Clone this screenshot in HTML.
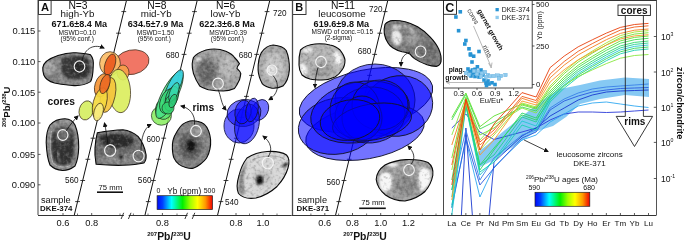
<!DOCTYPE html>
<html><head><meta charset="utf-8"><title>figure</title>
<style>html,body{margin:0;padding:0;background:#fff;width:685px;height:241px;overflow:hidden}svg{display:block;will-change:transform}text{font-family:"Liberation Sans",sans-serif}</style>
</head><body>
<svg width="685" height="241" viewBox="0 0 685 241" font-family="Liberation Sans, sans-serif"><defs>
<linearGradient id="jet" x1="0" x2="1" y1="0" y2="0">
<stop offset="0" stop-color="#0008f8"/><stop offset="0.1" stop-color="#0040ff"/>
<stop offset="0.26" stop-color="#00ffff"/><stop offset="0.46" stop-color="#00f000"/><stop offset="0.6" stop-color="#a0ff00"/><stop offset="0.73" stop-color="#ffff00"/>
<stop offset="0.87" stop-color="#ff9a00"/><stop offset="1" stop-color="#f00000"/>
</linearGradient>
<filter id="tex" x="0" y="0" width="1" height="1">
<feTurbulence type="fractalNoise" baseFrequency="0.12" numOctaves="3" seed="4" result="n"/>
<feColorMatrix in="n" type="matrix" values="0 0 0 0 0  0 0 0 0 0  0 0 0 0 0  0 0 0 -1.6 1.2" result="a"/>
<feComposite in="SourceGraphic" in2="a" operator="in"/>
</filter>
<filter id="bl"><feGaussianBlur stdDeviation="2"/></filter>
<filter id="bl1"><feGaussianBlur stdDeviation="1"/></filter>
<marker id="ah" markerWidth="5" markerHeight="5" refX="4" refY="2.5" orient="auto" markerUnits="userSpaceOnUse"><path d="M0,0 L5,2.5 L0,5 z" fill="#111"/></marker>
</defs>
<line x1="38" y1="31" x2="40.5" y2="31" stroke="#333" stroke-width="0.8" />
<text x="35.3" y="34.4" font-size="9.4" text-anchor="end" font-weight="normal" fill="#111" >0.115</text>
<line x1="38" y1="61.6" x2="40.5" y2="61.6" stroke="#333" stroke-width="0.8" />
<text x="35.3" y="65.0" font-size="9.4" text-anchor="end" font-weight="normal" fill="#111" >0.110</text>
<line x1="38" y1="92.2" x2="40.5" y2="92.2" stroke="#333" stroke-width="0.8" />
<text x="35.3" y="95.60000000000001" font-size="9.4" text-anchor="end" font-weight="normal" fill="#111" >0.105</text>
<line x1="38" y1="123" x2="40.5" y2="123" stroke="#333" stroke-width="0.8" />
<text x="35.3" y="126.4" font-size="9.4" text-anchor="end" font-weight="normal" fill="#111" >0.100</text>
<line x1="38" y1="154.4" x2="40.5" y2="154.4" stroke="#333" stroke-width="0.8" />
<text x="35.3" y="157.8" font-size="9.4" text-anchor="end" font-weight="normal" fill="#111" >0.095</text>
<line x1="38" y1="184.8" x2="40.5" y2="184.8" stroke="#333" stroke-width="0.8" />
<text x="35.3" y="188.20000000000002" font-size="9.4" text-anchor="end" font-weight="normal" fill="#111" >0.090</text>
<text transform="translate(10,127) rotate(-90)" font-size="9.6" font-weight="bold" fill="#111"><tspan font-size="5.6" dy="-3.6">206</tspan><tspan dy="3.6">Pb/</tspan><tspan font-size="5.6" dy="-3.6">238</tspan><tspan dy="3.6">U</tspan></text>
<filter id="tx1" x="-5%" y="-5%" width="110%" height="110%" color-interpolation-filters="sRGB"><feTurbulence type="fractalNoise" baseFrequency="0.3" numOctaves="2" seed="7" result="t"/><feColorMatrix in="t" type="matrix" values="0 0 0 0 0  0 0 0 0 0  0 0 0 0 0  0.6 0 0 0 -0.3" result="dk"/><feColorMatrix in="t" type="matrix" values="0 0 0 0 1  0 0 0 0 1  0 0 0 0 1  -0.6 0 0 0 0.3" result="lt"/><feMerge result="m"><feMergeNode in="dk"/><feMergeNode in="lt"/></feMerge><feComposite in="m" in2="SourceAlpha" operator="in"/></filter>
<clipPath id="zc1"><path d="M42.8,67.5 C43.5,61 52,57.5 58,55.5 C64,53.5 70,52.3 76,52.8 C82,53.2 88,53.6 90.5,54.8 C92.5,57 93.8,62 93.2,67 C93,73 92.6,78.5 90.5,81.6 C86,84.5 80,85.8 74,85.6 C66,85.2 60,84 54.5,83 C49,81.5 45.2,78.5 43.8,75 C43,72.5 42.6,70 42.8,67.5 Z"/></clipPath>
<path d="M42.8,67.5 C43.5,61 52,57.5 58,55.5 C64,53.5 70,52.3 76,52.8 C82,53.2 88,53.6 90.5,54.8 C92.5,57 93.8,62 93.2,67 C93,73 92.6,78.5 90.5,81.6 C86,84.5 80,85.8 74,85.6 C66,85.2 60,84 54.5,83 C49,81.5 45.2,78.5 43.8,75 C43,72.5 42.6,70 42.8,67.5 Z" fill="#8a8a8a"/>
<g clip-path="url(#zc1)"><path d="M62,58 C70,55.5 80,55.5 87,57.5 C90.5,61 90.8,70 89.5,75 C86,79.5 78,80 70,79 C64,77.5 61.5,73 61,68 C60.8,63 60.8,60 62,58 Z" fill="#3a3a3a" filter="url(#bl1)"/><ellipse cx="80" cy="68" rx="7" ry="7" fill="#2a2a2a" filter="url(#bl)"/><ellipse cx="52" cy="76" rx="6" ry="4" fill="#777" filter="url(#bl)"/><ellipse cx="49" cy="68" rx="5" ry="7" fill="#a8a8a8" filter="url(#bl1)"/></g>
<path d="M42.8,67.5 C43.5,61 52,57.5 58,55.5 C64,53.5 70,52.3 76,52.8 C82,53.2 88,53.6 90.5,54.8 C92.5,57 93.8,62 93.2,67 C93,73 92.6,78.5 90.5,81.6 C86,84.5 80,85.8 74,85.6 C66,85.2 60,84 54.5,83 C49,81.5 45.2,78.5 43.8,75 C43,72.5 42.6,70 42.8,67.5 Z" fill="#000" filter="url(#tx1)"/>
<path d="M42.8,67.5 C43.5,61 52,57.5 58,55.5 C64,53.5 70,52.3 76,52.8 C82,53.2 88,53.6 90.5,54.8 C92.5,57 93.8,62 93.2,67 C93,73 92.6,78.5 90.5,81.6 C86,84.5 80,85.8 74,85.6 C66,85.2 60,84 54.5,83 C49,81.5 45.2,78.5 43.8,75 C43,72.5 42.6,70 42.8,67.5 Z" fill="none" stroke="#0a0a0a" stroke-width="1.1"/>
<filter id="tx2" x="-5%" y="-5%" width="110%" height="110%" color-interpolation-filters="sRGB"><feTurbulence type="fractalNoise" baseFrequency="0.3" numOctaves="2" seed="14" result="t"/><feColorMatrix in="t" type="matrix" values="0 0 0 0 0  0 0 0 0 0  0 0 0 0 0  0.6 0 0 0 -0.3" result="dk"/><feColorMatrix in="t" type="matrix" values="0 0 0 0 1  0 0 0 0 1  0 0 0 0 1  -0.6 0 0 0 0.3" result="lt"/><feMerge result="m"><feMergeNode in="dk"/><feMergeNode in="lt"/></feMerge><feComposite in="m" in2="SourceAlpha" operator="in"/></filter>
<clipPath id="zc2"><path d="M65,118.7 C70,118.8 73,121 75,125 C77.5,131 78.8,139 78.7,147.5 C78.5,155 77.5,161 75,166 C71,169 66.5,170.6 62.5,170.5 C57,170 53,168 50,165 C47.5,159 46.5,151 46.2,142.5 C46.2,135 47.5,129 50,125 C54,120.5 59,118.6 65,118.7 Z"/></clipPath>
<path d="M65,118.7 C70,118.8 73,121 75,125 C77.5,131 78.8,139 78.7,147.5 C78.5,155 77.5,161 75,166 C71,169 66.5,170.6 62.5,170.5 C57,170 53,168 50,165 C47.5,159 46.5,151 46.2,142.5 C46.2,135 47.5,129 50,125 C54,120.5 59,118.6 65,118.7 Z" fill="#8c8c8c"/>
<g clip-path="url(#zc2)"><path d="M53,132 C56,126 70,125 73,132 C75,143 74.5,155 71,163 C65,166.5 57,166 53.5,160 C51,152 50.5,141 53,132 Z" fill="#363636" filter="url(#bl1)"/><ellipse cx="63" cy="134" rx="8" ry="7" fill="#707070" filter="url(#bl)"/><path d="M51.5,131 C49.5,142 50,155 53,163 C58,168 66,168 71,165" stroke="#b0b0b0" stroke-width="0.9" fill="none"/><path d="M58,150 C57,156 58,160 61,162" stroke="#999" stroke-width="1.2" fill="none" filter="url(#bl1)"/></g>
<path d="M65,118.7 C70,118.8 73,121 75,125 C77.5,131 78.8,139 78.7,147.5 C78.5,155 77.5,161 75,166 C71,169 66.5,170.6 62.5,170.5 C57,170 53,168 50,165 C47.5,159 46.5,151 46.2,142.5 C46.2,135 47.5,129 50,125 C54,120.5 59,118.6 65,118.7 Z" fill="#000" filter="url(#tx2)"/>
<path d="M65,118.7 C70,118.8 73,121 75,125 C77.5,131 78.8,139 78.7,147.5 C78.5,155 77.5,161 75,166 C71,169 66.5,170.6 62.5,170.5 C57,170 53,168 50,165 C47.5,159 46.5,151 46.2,142.5 C46.2,135 47.5,129 50,125 C54,120.5 59,118.6 65,118.7 Z" fill="none" stroke="#0a0a0a" stroke-width="1.1"/>
<filter id="tx3" x="-5%" y="-5%" width="110%" height="110%" color-interpolation-filters="sRGB"><feTurbulence type="fractalNoise" baseFrequency="0.3" numOctaves="2" seed="21" result="t"/><feColorMatrix in="t" type="matrix" values="0 0 0 0 0  0 0 0 0 0  0 0 0 0 0  0.6 0 0 0 -0.3" result="dk"/><feColorMatrix in="t" type="matrix" values="0 0 0 0 1  0 0 0 0 1  0 0 0 0 1  -0.6 0 0 0 0.3" result="lt"/><feMerge result="m"><feMergeNode in="dk"/><feMergeNode in="lt"/></feMerge><feComposite in="m" in2="SourceAlpha" operator="in"/></filter>
<clipPath id="zc3"><path d="M97.3,132.8 C105,131.5 114,130.2 122.9,129.8 C128,130.5 134,133 138,136.3 C142,141 145,148 146.1,154.9 C146.3,158.5 145.5,161.5 143.8,163 C137,164.5 130,165 122.9,165.3 C114,165.5 104,165 96.1,164.2 C95,158 94.6,153 95,147.9 C95.4,142 96.2,137 97.3,132.8 Z"/></clipPath>
<path d="M97.3,132.8 C105,131.5 114,130.2 122.9,129.8 C128,130.5 134,133 138,136.3 C142,141 145,148 146.1,154.9 C146.3,158.5 145.5,161.5 143.8,163 C137,164.5 130,165 122.9,165.3 C114,165.5 104,165 96.1,164.2 C95,158 94.6,153 95,147.9 C95.4,142 96.2,137 97.3,132.8 Z" fill="#6c6c6c"/>
<g clip-path="url(#zc3)"><path d="M99,137 C108,133 122,132 133,138 C136,143 130,148 118,148 C108,148 101,145 99,137 Z" fill="#2e2e2e" filter="url(#bl1)"/><ellipse cx="118" cy="160" rx="22" ry="4.5" fill="#8c8c8c" filter="url(#bl)"/><ellipse cx="140" cy="148" rx="4" ry="8" fill="#7a7a7a" filter="url(#bl1)"/><ellipse cx="121" cy="157" rx="2" ry="2" fill="#1a1a1a" filter="url(#bl1)"/><path d="M100,133 C110,131.5 120,131 126,132" stroke="#999" stroke-width="1.2" fill="none" filter="url(#bl1)"/></g>
<path d="M97.3,132.8 C105,131.5 114,130.2 122.9,129.8 C128,130.5 134,133 138,136.3 C142,141 145,148 146.1,154.9 C146.3,158.5 145.5,161.5 143.8,163 C137,164.5 130,165 122.9,165.3 C114,165.5 104,165 96.1,164.2 C95,158 94.6,153 95,147.9 C95.4,142 96.2,137 97.3,132.8 Z" fill="#000" filter="url(#tx3)"/>
<path d="M97.3,132.8 C105,131.5 114,130.2 122.9,129.8 C128,130.5 134,133 138,136.3 C142,141 145,148 146.1,154.9 C146.3,158.5 145.5,161.5 143.8,163 C137,164.5 130,165 122.9,165.3 C114,165.5 104,165 96.1,164.2 C95,158 94.6,153 95,147.9 C95.4,142 96.2,137 97.3,132.8 Z" fill="none" stroke="#0a0a0a" stroke-width="1.1"/>
<filter id="tx4" x="-5%" y="-5%" width="110%" height="110%" color-interpolation-filters="sRGB"><feTurbulence type="fractalNoise" baseFrequency="0.3" numOctaves="2" seed="28" result="t"/><feColorMatrix in="t" type="matrix" values="0 0 0 0 0  0 0 0 0 0  0 0 0 0 0  0.6 0 0 0 -0.3" result="dk"/><feColorMatrix in="t" type="matrix" values="0 0 0 0 1  0 0 0 0 1  0 0 0 0 1  -0.6 0 0 0 0.3" result="lt"/><feMerge result="m"><feMergeNode in="dk"/><feMergeNode in="lt"/></feMerge><feComposite in="m" in2="SourceAlpha" operator="in"/></filter>
<clipPath id="zc4"><path d="M193.5,57.5 C196,54 200,52 206,50 C212,48.5 219,48.5 225.8,51.2 C230,53 233,55 234.5,57.5 C237,60 238.5,62 239.5,63.7 C238,65.5 237,67 237,68.6 C238.5,70 240.5,71.5 240.8,73.6 C240.5,76 240,78 239.5,79.8 C238,83 236.5,86 234.5,88.5 C230,90.5 226,91 223.3,91 C218,91 213,90.5 208.4,89.8 C205,88.5 202,87.5 199.7,86 C197,82 195,78 193.5,73.6 C192.5,70 192,67 192.2,63.7 C192.5,61 193,59 193.5,57.5 Z"/></clipPath>
<path d="M193.5,57.5 C196,54 200,52 206,50 C212,48.5 219,48.5 225.8,51.2 C230,53 233,55 234.5,57.5 C237,60 238.5,62 239.5,63.7 C238,65.5 237,67 237,68.6 C238.5,70 240.5,71.5 240.8,73.6 C240.5,76 240,78 239.5,79.8 C238,83 236.5,86 234.5,88.5 C230,90.5 226,91 223.3,91 C218,91 213,90.5 208.4,89.8 C205,88.5 202,87.5 199.7,86 C197,82 195,78 193.5,73.6 C192.5,70 192,67 192.2,63.7 C192.5,61 193,59 193.5,57.5 Z" fill="#a2a2a2"/>
<g clip-path="url(#zc4)"><ellipse cx="207" cy="72" rx="10" ry="14" fill="#6a6a6a" filter="url(#bl)"/><ellipse cx="229" cy="66" rx="8" ry="12" fill="#b8b8b8" filter="url(#bl)"/><ellipse cx="198.5" cy="59.5" rx="2.5" ry="1.8" fill="#f4f4f4" filter="url(#bl1)"/></g>
<path d="M193.5,57.5 C196,54 200,52 206,50 C212,48.5 219,48.5 225.8,51.2 C230,53 233,55 234.5,57.5 C237,60 238.5,62 239.5,63.7 C238,65.5 237,67 237,68.6 C238.5,70 240.5,71.5 240.8,73.6 C240.5,76 240,78 239.5,79.8 C238,83 236.5,86 234.5,88.5 C230,90.5 226,91 223.3,91 C218,91 213,90.5 208.4,89.8 C205,88.5 202,87.5 199.7,86 C197,82 195,78 193.5,73.6 C192.5,70 192,67 192.2,63.7 C192.5,61 193,59 193.5,57.5 Z" fill="#000" filter="url(#tx4)"/>
<path d="M193.5,57.5 C196,54 200,52 206,50 C212,48.5 219,48.5 225.8,51.2 C230,53 233,55 234.5,57.5 C237,60 238.5,62 239.5,63.7 C238,65.5 237,67 237,68.6 C238.5,70 240.5,71.5 240.8,73.6 C240.5,76 240,78 239.5,79.8 C238,83 236.5,86 234.5,88.5 C230,90.5 226,91 223.3,91 C218,91 213,90.5 208.4,89.8 C205,88.5 202,87.5 199.7,86 C197,82 195,78 193.5,73.6 C192.5,70 192,67 192.2,63.7 C192.5,61 193,59 193.5,57.5 Z" fill="none" stroke="#0a0a0a" stroke-width="1.1"/>
<filter id="tx5" x="-5%" y="-5%" width="110%" height="110%" color-interpolation-filters="sRGB"><feTurbulence type="fractalNoise" baseFrequency="0.3" numOctaves="2" seed="35" result="t"/><feColorMatrix in="t" type="matrix" values="0 0 0 0 0  0 0 0 0 0  0 0 0 0 0  0.6 0 0 0 -0.3" result="dk"/><feColorMatrix in="t" type="matrix" values="0 0 0 0 1  0 0 0 0 1  0 0 0 0 1  -0.6 0 0 0 0.3" result="lt"/><feMerge result="m"><feMergeNode in="dk"/><feMergeNode in="lt"/></feMerge><feComposite in="m" in2="SourceAlpha" operator="in"/></filter>
<clipPath id="zc5"><path d="M209.9,149.1 C209.3,152.1 208.2,155.5 206.6,158.0 C205.0,160.5 202.5,162.5 200.3,164.2 C198.1,165.9 195.6,167.6 193.2,168.2 C190.7,168.7 188.1,168.1 185.8,167.5 C183.4,166.9 181.0,166.0 179.0,164.4 C177.1,162.9 175.1,160.7 174.0,158.1 C172.9,155.6 172.6,152.2 172.4,149.2 C172.3,146.2 172.3,142.8 173.1,139.9 C173.8,137.0 175.4,134.1 177.0,131.5 C178.6,129.0 180.4,126.2 182.5,124.4 C184.7,122.7 187.4,121.6 189.9,121.0 C192.3,120.5 194.9,120.7 197.3,121.3 C199.7,121.8 202.3,122.5 204.2,124.2 C206.1,125.8 207.6,128.5 208.7,131.1 C209.7,133.8 210.4,136.8 210.6,139.8 C210.8,142.8 210.6,146.1 209.9,149.1 Z"/></clipPath>
<path d="M209.9,149.1 C209.3,152.1 208.2,155.5 206.6,158.0 C205.0,160.5 202.5,162.5 200.3,164.2 C198.1,165.9 195.6,167.6 193.2,168.2 C190.7,168.7 188.1,168.1 185.8,167.5 C183.4,166.9 181.0,166.0 179.0,164.4 C177.1,162.9 175.1,160.7 174.0,158.1 C172.9,155.6 172.6,152.2 172.4,149.2 C172.3,146.2 172.3,142.8 173.1,139.9 C173.8,137.0 175.4,134.1 177.0,131.5 C178.6,129.0 180.4,126.2 182.5,124.4 C184.7,122.7 187.4,121.6 189.9,121.0 C192.3,120.5 194.9,120.7 197.3,121.3 C199.7,121.8 202.3,122.5 204.2,124.2 C206.1,125.8 207.6,128.5 208.7,131.1 C209.7,133.8 210.4,136.8 210.6,139.8 C210.8,142.8 210.6,146.1 209.9,149.1 Z" fill="#828282"/>
<g clip-path="url(#zc5)"><ellipse cx="190" cy="146" rx="11" ry="13" fill="#5a5a5a" filter="url(#bl)"/><ellipse cx="191" cy="146" rx="4.5" ry="6" fill="#151515" filter="url(#bl1)"/><ellipse cx="197" cy="131" rx="7" ry="6" fill="#9a9a9a" filter="url(#bl)"/></g>
<path d="M209.9,149.1 C209.3,152.1 208.2,155.5 206.6,158.0 C205.0,160.5 202.5,162.5 200.3,164.2 C198.1,165.9 195.6,167.6 193.2,168.2 C190.7,168.7 188.1,168.1 185.8,167.5 C183.4,166.9 181.0,166.0 179.0,164.4 C177.1,162.9 175.1,160.7 174.0,158.1 C172.9,155.6 172.6,152.2 172.4,149.2 C172.3,146.2 172.3,142.8 173.1,139.9 C173.8,137.0 175.4,134.1 177.0,131.5 C178.6,129.0 180.4,126.2 182.5,124.4 C184.7,122.7 187.4,121.6 189.9,121.0 C192.3,120.5 194.9,120.7 197.3,121.3 C199.7,121.8 202.3,122.5 204.2,124.2 C206.1,125.8 207.6,128.5 208.7,131.1 C209.7,133.8 210.4,136.8 210.6,139.8 C210.8,142.8 210.6,146.1 209.9,149.1 Z" fill="#000" filter="url(#tx5)"/>
<path d="M209.9,149.1 C209.3,152.1 208.2,155.5 206.6,158.0 C205.0,160.5 202.5,162.5 200.3,164.2 C198.1,165.9 195.6,167.6 193.2,168.2 C190.7,168.7 188.1,168.1 185.8,167.5 C183.4,166.9 181.0,166.0 179.0,164.4 C177.1,162.9 175.1,160.7 174.0,158.1 C172.9,155.6 172.6,152.2 172.4,149.2 C172.3,146.2 172.3,142.8 173.1,139.9 C173.8,137.0 175.4,134.1 177.0,131.5 C178.6,129.0 180.4,126.2 182.5,124.4 C184.7,122.7 187.4,121.6 189.9,121.0 C192.3,120.5 194.9,120.7 197.3,121.3 C199.7,121.8 202.3,122.5 204.2,124.2 C206.1,125.8 207.6,128.5 208.7,131.1 C209.7,133.8 210.4,136.8 210.6,139.8 C210.8,142.8 210.6,146.1 209.9,149.1 Z" fill="none" stroke="#0a0a0a" stroke-width="1.1"/>
<filter id="tx6" x="-5%" y="-5%" width="110%" height="110%" color-interpolation-filters="sRGB"><feTurbulence type="fractalNoise" baseFrequency="0.3" numOctaves="2" seed="42" result="t"/><feColorMatrix in="t" type="matrix" values="0 0 0 0 0  0 0 0 0 0  0 0 0 0 0  0.6 0 0 0 -0.3" result="dk"/><feColorMatrix in="t" type="matrix" values="0 0 0 0 1  0 0 0 0 1  0 0 0 0 1  -0.6 0 0 0 0.3" result="lt"/><feMerge result="m"><feMergeNode in="dk"/><feMergeNode in="lt"/></feMerge><feComposite in="m" in2="SourceAlpha" operator="in"/></filter>
<clipPath id="zc6"><path d="M247,158 C253,154 260,152 267,151.5 C275,151 282,152 286.5,155 C289.3,158 289.5,163 288,168 C286,175 282,181 277,186.5 C271,192 264,196 256,198 C249,199 242,197.5 238.5,193.5 C236.5,189 237,182 239,175.5 C240.5,169 243.5,162.5 247,158 Z"/></clipPath>
<path d="M247,158 C253,154 260,152 267,151.5 C275,151 282,152 286.5,155 C289.3,158 289.5,163 288,168 C286,175 282,181 277,186.5 C271,192 264,196 256,198 C249,199 242,197.5 238.5,193.5 C236.5,189 237,182 239,175.5 C240.5,169 243.5,162.5 247,158 Z" fill="#d6d6d6"/>
<g clip-path="url(#zc6)"><path d="M239,193 C237,182 241,168 248,160 C244,170 242,182 245,194 Z" fill="#808080" filter="url(#bl1)"/><ellipse cx="262" cy="178" rx="9" ry="8" fill="#bdbdbd" filter="url(#bl)"/><ellipse cx="259.7" cy="180" rx="3.5" ry="4.5" fill="#111" filter="url(#bl1)"/><path d="M281,166 C284,163 287,162 289,163 C288,166 285,168 281,166 Z" fill="#222" filter="url(#bl1)"/><path d="M252,160 C265,154 280,155 285,160" stroke="#999" stroke-width="0.8" fill="none"/></g>
<path d="M247,158 C253,154 260,152 267,151.5 C275,151 282,152 286.5,155 C289.3,158 289.5,163 288,168 C286,175 282,181 277,186.5 C271,192 264,196 256,198 C249,199 242,197.5 238.5,193.5 C236.5,189 237,182 239,175.5 C240.5,169 243.5,162.5 247,158 Z" fill="#000" filter="url(#tx6)"/>
<path d="M247,158 C253,154 260,152 267,151.5 C275,151 282,152 286.5,155 C289.3,158 289.5,163 288,168 C286,175 282,181 277,186.5 C271,192 264,196 256,198 C249,199 242,197.5 238.5,193.5 C236.5,189 237,182 239,175.5 C240.5,169 243.5,162.5 247,158 Z" fill="none" stroke="#0a0a0a" stroke-width="1.1"/>
<filter id="tx7" x="-5%" y="-5%" width="110%" height="110%" color-interpolation-filters="sRGB"><feTurbulence type="fractalNoise" baseFrequency="0.3" numOctaves="2" seed="49" result="t"/><feColorMatrix in="t" type="matrix" values="0 0 0 0 0  0 0 0 0 0  0 0 0 0 0  0.6 0 0 0 -0.3" result="dk"/><feColorMatrix in="t" type="matrix" values="0 0 0 0 1  0 0 0 0 1  0 0 0 0 1  -0.6 0 0 0 0.3" result="lt"/><feMerge result="m"><feMergeNode in="dk"/><feMergeNode in="lt"/></feMerge><feComposite in="m" in2="SourceAlpha" operator="in"/></filter>
<clipPath id="zc7"><path d="M273.2,45 C279,45.5 284,47.5 286.2,50.5 C288.5,56 289.6,63 289.4,69.9 C288.8,77 286.5,82.5 282.9,86.1 C279,88 275.5,88.5 272.1,88.2 C268,87.5 264.5,86 262.4,83.9 C259.8,79 258.3,75 258.1,69.9 C258,63 259,57 261.4,52.6 C264.5,48 268.5,45.3 273.2,45 Z"/></clipPath>
<path d="M273.2,45 C279,45.5 284,47.5 286.2,50.5 C288.5,56 289.6,63 289.4,69.9 C288.8,77 286.5,82.5 282.9,86.1 C279,88 275.5,88.5 272.1,88.2 C268,87.5 264.5,86 262.4,83.9 C259.8,79 258.3,75 258.1,69.9 C258,63 259,57 261.4,52.6 C264.5,48 268.5,45.3 273.2,45 Z" fill="#a8a8a8"/>
<g clip-path="url(#zc7)"><ellipse cx="274" cy="68" rx="10" ry="15" fill="#c4c4c4" filter="url(#bl)"/><ellipse cx="271" cy="70.3" rx="4.5" ry="4.5" fill="#e6e6e6" filter="url(#bl1)"/></g>
<path d="M273.2,45 C279,45.5 284,47.5 286.2,50.5 C288.5,56 289.6,63 289.4,69.9 C288.8,77 286.5,82.5 282.9,86.1 C279,88 275.5,88.5 272.1,88.2 C268,87.5 264.5,86 262.4,83.9 C259.8,79 258.3,75 258.1,69.9 C258,63 259,57 261.4,52.6 C264.5,48 268.5,45.3 273.2,45 Z" fill="#000" filter="url(#tx7)"/>
<path d="M273.2,45 C279,45.5 284,47.5 286.2,50.5 C288.5,56 289.6,63 289.4,69.9 C288.8,77 286.5,82.5 282.9,86.1 C279,88 275.5,88.5 272.1,88.2 C268,87.5 264.5,86 262.4,83.9 C259.8,79 258.3,75 258.1,69.9 C258,63 259,57 261.4,52.6 C264.5,48 268.5,45.3 273.2,45 Z" fill="none" stroke="#0a0a0a" stroke-width="1.1"/>
<filter id="tx8" x="-5%" y="-5%" width="110%" height="110%" color-interpolation-filters="sRGB"><feTurbulence type="fractalNoise" baseFrequency="0.3" numOctaves="2" seed="56" result="t"/><feColorMatrix in="t" type="matrix" values="0 0 0 0 0  0 0 0 0 0  0 0 0 0 0  0.6 0 0 0 -0.3" result="dk"/><feColorMatrix in="t" type="matrix" values="0 0 0 0 1  0 0 0 0 1  0 0 0 0 1  -0.6 0 0 0 0.3" result="lt"/><feMerge result="m"><feMergeNode in="dk"/><feMergeNode in="lt"/></feMerge><feComposite in="m" in2="SourceAlpha" operator="in"/></filter>
<clipPath id="zc8"><path d="M385,24.3 C387,22 389.5,20.8 392.7,20.6 C397,20.3 401,20.8 405.2,21.8 C410,23 414,24.8 417.6,26.8 C422,29.5 426.5,33 430,36.8 C434,41 437,45 438.8,49.2 C440.5,53 441.5,57.5 441,61.7 C440.3,64.5 438.5,66 436.3,66.4 C433,66.3 430,65.8 427,64.8 C422,63 418,61 414.5,58.6 C412.5,57 411,55.5 409.8,53.9 C407,52.5 404.5,52 402,51.7 C398.5,51 395.5,49.5 392.7,47.7 C390.5,46.3 389,44.8 388,43 C386,40 384.8,37 384.3,33.7 C384,30.5 384.2,27 385,24.3 Z"/></clipPath>
<path d="M385,24.3 C387,22 389.5,20.8 392.7,20.6 C397,20.3 401,20.8 405.2,21.8 C410,23 414,24.8 417.6,26.8 C422,29.5 426.5,33 430,36.8 C434,41 437,45 438.8,49.2 C440.5,53 441.5,57.5 441,61.7 C440.3,64.5 438.5,66 436.3,66.4 C433,66.3 430,65.8 427,64.8 C422,63 418,61 414.5,58.6 C412.5,57 411,55.5 409.8,53.9 C407,52.5 404.5,52 402,51.7 C398.5,51 395.5,49.5 392.7,47.7 C390.5,46.3 389,44.8 388,43 C386,40 384.8,37 384.3,33.7 C384,30.5 384.2,27 385,24.3 Z" fill="#7c7c7c"/>
<g clip-path="url(#zc8)"><path d="M392,30 C396,28 401,31 402,37 C402,43 399,46 395,45 C392,42 391,36 392,30 Z" fill="#e8e8e8" filter="url(#bl1)"/><ellipse cx="397" cy="27" rx="5" ry="2.5" fill="#d0d0d0" filter="url(#bl1)"/><ellipse cx="428" cy="52" rx="8" ry="10" fill="#6e6e6e" filter="url(#bl)"/><ellipse cx="412" cy="38" rx="8" ry="7" fill="#999" filter="url(#bl)"/><path d="M404,26 C410,27 414,30 413,33" stroke="#ddd" stroke-width="1.5" fill="none" filter="url(#bl1)"/></g>
<path d="M385,24.3 C387,22 389.5,20.8 392.7,20.6 C397,20.3 401,20.8 405.2,21.8 C410,23 414,24.8 417.6,26.8 C422,29.5 426.5,33 430,36.8 C434,41 437,45 438.8,49.2 C440.5,53 441.5,57.5 441,61.7 C440.3,64.5 438.5,66 436.3,66.4 C433,66.3 430,65.8 427,64.8 C422,63 418,61 414.5,58.6 C412.5,57 411,55.5 409.8,53.9 C407,52.5 404.5,52 402,51.7 C398.5,51 395.5,49.5 392.7,47.7 C390.5,46.3 389,44.8 388,43 C386,40 384.8,37 384.3,33.7 C384,30.5 384.2,27 385,24.3 Z" fill="#000" filter="url(#tx8)"/>
<path d="M385,24.3 C387,22 389.5,20.8 392.7,20.6 C397,20.3 401,20.8 405.2,21.8 C410,23 414,24.8 417.6,26.8 C422,29.5 426.5,33 430,36.8 C434,41 437,45 438.8,49.2 C440.5,53 441.5,57.5 441,61.7 C440.3,64.5 438.5,66 436.3,66.4 C433,66.3 430,65.8 427,64.8 C422,63 418,61 414.5,58.6 C412.5,57 411,55.5 409.8,53.9 C407,52.5 404.5,52 402,51.7 C398.5,51 395.5,49.5 392.7,47.7 C390.5,46.3 389,44.8 388,43 C386,40 384.8,37 384.3,33.7 C384,30.5 384.2,27 385,24.3 Z" fill="none" stroke="#0a0a0a" stroke-width="1.1"/>
<filter id="tx9" x="-5%" y="-5%" width="110%" height="110%" color-interpolation-filters="sRGB"><feTurbulence type="fractalNoise" baseFrequency="0.3" numOctaves="2" seed="63" result="t"/><feColorMatrix in="t" type="matrix" values="0 0 0 0 0  0 0 0 0 0  0 0 0 0 0  0.6 0 0 0 -0.3" result="dk"/><feColorMatrix in="t" type="matrix" values="0 0 0 0 1  0 0 0 0 1  0 0 0 0 1  -0.6 0 0 0 0.3" result="lt"/><feMerge result="m"><feMergeNode in="dk"/><feMergeNode in="lt"/></feMerge><feComposite in="m" in2="SourceAlpha" operator="in"/></filter>
<clipPath id="zc9"><path d="M300.5,50 C304,46.5 309,44.5 315,44 C321,43.5 326,44 330,45 C334.5,46 337.5,47.5 340,50 C342.5,53 344.5,56.5 345,60 C345,64 344,67.5 342,70 C340,73 337.5,75.5 335,77 C331,79 326.5,80 322,80 C317.5,80 313.5,79.8 310,79 C306.5,78 304,76.8 302,75 C300,72 299,68.5 299,65 C298.8,60 299.2,54.5 300.5,50 Z"/></clipPath>
<path d="M300.5,50 C304,46.5 309,44.5 315,44 C321,43.5 326,44 330,45 C334.5,46 337.5,47.5 340,50 C342.5,53 344.5,56.5 345,60 C345,64 344,67.5 342,70 C340,73 337.5,75.5 335,77 C331,79 326.5,80 322,80 C317.5,80 313.5,79.8 310,79 C306.5,78 304,76.8 302,75 C300,72 299,68.5 299,65 C298.8,60 299.2,54.5 300.5,50 Z" fill="#b4b4b4"/>
<g clip-path="url(#zc9)"><path d="M300,64 C303,62 307,66 307,72 C306,76 303,77 301,74 Z" fill="#f8f8f8" filter="url(#bl1)"/><path d="M302,50 C306,47 312,47 313,50 C310,53 305,54 302,50 Z" fill="#eee" filter="url(#bl1)"/><path d="M334,52 C338,50 342,55 342,61 C341,66 338,67 336,64 C334,60 333,56 334,52 Z" fill="#f4f4f4" filter="url(#bl1)"/><ellipse cx="322" cy="70" rx="10" ry="7" fill="#999" filter="url(#bl)"/></g>
<path d="M300.5,50 C304,46.5 309,44.5 315,44 C321,43.5 326,44 330,45 C334.5,46 337.5,47.5 340,50 C342.5,53 344.5,56.5 345,60 C345,64 344,67.5 342,70 C340,73 337.5,75.5 335,77 C331,79 326.5,80 322,80 C317.5,80 313.5,79.8 310,79 C306.5,78 304,76.8 302,75 C300,72 299,68.5 299,65 C298.8,60 299.2,54.5 300.5,50 Z" fill="#000" filter="url(#tx9)"/>
<path d="M300.5,50 C304,46.5 309,44.5 315,44 C321,43.5 326,44 330,45 C334.5,46 337.5,47.5 340,50 C342.5,53 344.5,56.5 345,60 C345,64 344,67.5 342,70 C340,73 337.5,75.5 335,77 C331,79 326.5,80 322,80 C317.5,80 313.5,79.8 310,79 C306.5,78 304,76.8 302,75 C300,72 299,68.5 299,65 C298.8,60 299.2,54.5 300.5,50 Z" fill="none" stroke="#0a0a0a" stroke-width="1.1"/>
<filter id="tx10" x="-5%" y="-5%" width="110%" height="110%" color-interpolation-filters="sRGB"><feTurbulence type="fractalNoise" baseFrequency="0.3" numOctaves="2" seed="70" result="t"/><feColorMatrix in="t" type="matrix" values="0 0 0 0 0  0 0 0 0 0  0 0 0 0 0  0.6 0 0 0 -0.3" result="dk"/><feColorMatrix in="t" type="matrix" values="0 0 0 0 1  0 0 0 0 1  0 0 0 0 1  -0.6 0 0 0 0.3" result="lt"/><feMerge result="m"><feMergeNode in="dk"/><feMergeNode in="lt"/></feMerge><feComposite in="m" in2="SourceAlpha" operator="in"/></filter>
<clipPath id="zc10"><path d="M385,165 C392,161.5 399,160 406,159.6 C414,159.4 422,159.8 428,162.5 C432,165.5 433.5,170 432.8,175.5 C431.5,182 429,187 425,191.5 C420,196 413,199.5 405,201 C398,201 391,199 385.5,195 C380.5,191 377,186 376.2,179.5 C376.5,173.5 380,168.5 385,165 Z"/></clipPath>
<path d="M385,165 C392,161.5 399,160 406,159.6 C414,159.4 422,159.8 428,162.5 C432,165.5 433.5,170 432.8,175.5 C431.5,182 429,187 425,191.5 C420,196 413,199.5 405,201 C398,201 391,199 385.5,195 C380.5,191 377,186 376.2,179.5 C376.5,173.5 380,168.5 385,165 Z" fill="#a0a0a0"/>
<g clip-path="url(#zc10)"><path d="M380,176 C384,170 390,171 392,178 C393,186 390,192 385,193 C380,190 378,183 380,176 Z" fill="#f6f6f6" filter="url(#bl1)"/><path d="M420,168 C426,166 431,170 431,177 C430,185 426,190 421,191 C418,186 417,178 420,168 Z" fill="#f6f6f6" filter="url(#bl1)"/><path d="M386,164 C390,162 396,162 398,165 C395,168 390,168 386,164 Z" fill="#eee" filter="url(#bl1)"/><ellipse cx="406" cy="185" rx="12" ry="10" fill="#888" filter="url(#bl)"/></g>
<path d="M385,165 C392,161.5 399,160 406,159.6 C414,159.4 422,159.8 428,162.5 C432,165.5 433.5,170 432.8,175.5 C431.5,182 429,187 425,191.5 C420,196 413,199.5 405,201 C398,201 391,199 385.5,195 C380.5,191 377,186 376.2,179.5 C376.5,173.5 380,168.5 385,165 Z" fill="#000" filter="url(#tx10)"/>
<path d="M385,165 C392,161.5 399,160 406,159.6 C414,159.4 422,159.8 428,162.5 C432,165.5 433.5,170 432.8,175.5 C431.5,182 429,187 425,191.5 C420,196 413,199.5 405,201 C398,201 391,199 385.5,195 C380.5,191 377,186 376.2,179.5 C376.5,173.5 380,168.5 385,165 Z" fill="none" stroke="#0a0a0a" stroke-width="1.1"/>
<ellipse cx="79.5" cy="66.5" rx="5.319999999999999" ry="5.6" fill="none" stroke="#f4f4f4" stroke-width="1.1"/>
<ellipse cx="62.8" cy="135" rx="5.13" ry="5.4" fill="none" stroke="#f4f4f4" stroke-width="1.1"/>
<ellipse cx="110.1" cy="150.4" rx="5.51" ry="5.8" fill="none" stroke="#f4f4f4" stroke-width="1.1"/>
<ellipse cx="138.6" cy="156" rx="5.51" ry="5.8" fill="none" stroke="#f4f4f4" stroke-width="1.1"/>
<ellipse cx="218" cy="83.7" rx="5.319999999999999" ry="5.6" fill="none" stroke="#f4f4f4" stroke-width="1.1"/>
<ellipse cx="196" cy="131" rx="5.319999999999999" ry="5.6" fill="none" stroke="#f4f4f4" stroke-width="1.1"/>
<ellipse cx="267.8" cy="163" rx="5.51" ry="5.8" fill="none" stroke="#f4f4f4" stroke-width="1.1"/>
<ellipse cx="272" cy="70.2" rx="4.9399999999999995" ry="5.2" fill="none" stroke="#f4f4f4" stroke-width="1.1"/>
<ellipse cx="321" cy="62" rx="5.319999999999999" ry="5.6" fill="none" stroke="#f4f4f4" stroke-width="1.1"/>
<ellipse cx="420.6" cy="51.6" rx="5.319999999999999" ry="5.6" fill="none" stroke="#f4f4f4" stroke-width="1.1"/>
<ellipse cx="409" cy="170" rx="5.319999999999999" ry="5.6" fill="none" stroke="#f4f4f4" stroke-width="1.1"/>
<line x1="126.6" y1="0" x2="74.3" y2="215" stroke="#111" stroke-width="1" />
<line x1="121.37823255813953" y1="11.6" x2="126.17823255813954" y2="11.6" stroke="#111" stroke-width="0.8" />
<line x1="116.12390697674417" y1="33.2" x2="120.92390697674418" y2="33.2" stroke="#111" stroke-width="0.8" />
<line x1="110.96688372093023" y1="54.4" x2="115.76688372093024" y2="54.4" stroke="#111" stroke-width="0.8" />
<line x1="105.85851162790696" y1="75.4" x2="110.65851162790698" y2="75.4" stroke="#111" stroke-width="0.8" />
<line x1="100.75013953488371" y1="96.4" x2="105.55013953488373" y2="96.4" stroke="#111" stroke-width="0.8" />
<line x1="95.6660930232558" y1="117.3" x2="100.46609302325581" y2="117.3" stroke="#111" stroke-width="0.8" />
<line x1="90.58204651162791" y1="138.2" x2="95.38204651162792" y2="138.2" stroke="#111" stroke-width="0.8" />
<line x1="85.4493488372093" y1="159.3" x2="90.24934883720931" y2="159.3" stroke="#111" stroke-width="0.8" />
<line x1="80.29232558139535" y1="180.5" x2="85.09232558139536" y2="180.5" stroke="#111" stroke-width="0.8" />
<line x1="75.15962790697674" y1="201.6" x2="79.95962790697675" y2="201.6" stroke="#111" stroke-width="0.8" />
<line x1="197.3" y1="0" x2="145.0" y2="215" stroke="#111" stroke-width="1" />
<line x1="192.07823255813955" y1="11.6" x2="196.87823255813956" y2="11.6" stroke="#111" stroke-width="0.8" />
<line x1="186.82390697674418" y1="33.2" x2="191.6239069767442" y2="33.2" stroke="#111" stroke-width="0.8" />
<line x1="181.66688372093023" y1="54.4" x2="186.46688372093024" y2="54.4" stroke="#111" stroke-width="0.8" />
<line x1="176.558511627907" y1="75.4" x2="181.358511627907" y2="75.4" stroke="#111" stroke-width="0.8" />
<line x1="171.45013953488373" y1="96.4" x2="176.25013953488374" y2="96.4" stroke="#111" stroke-width="0.8" />
<line x1="166.36609302325581" y1="117.3" x2="171.16609302325583" y2="117.3" stroke="#111" stroke-width="0.8" />
<line x1="161.28204651162793" y1="138.2" x2="166.08204651162794" y2="138.2" stroke="#111" stroke-width="0.8" />
<line x1="156.14934883720932" y1="159.3" x2="160.94934883720933" y2="159.3" stroke="#111" stroke-width="0.8" />
<line x1="150.99232558139536" y1="180.5" x2="155.79232558139537" y2="180.5" stroke="#111" stroke-width="0.8" />
<line x1="145.85962790697675" y1="201.6" x2="150.65962790697677" y2="201.6" stroke="#111" stroke-width="0.8" />
<line x1="269.9" y1="0" x2="217.59999999999997" y2="215" stroke="#111" stroke-width="1" />
<line x1="264.67823255813954" y1="11.6" x2="269.4782325581395" y2="11.6" stroke="#111" stroke-width="0.8" />
<line x1="259.4239069767442" y1="33.2" x2="264.22390697674416" y2="33.2" stroke="#111" stroke-width="0.8" />
<line x1="254.26688372093022" y1="54.4" x2="259.0668837209302" y2="54.4" stroke="#111" stroke-width="0.8" />
<line x1="249.15851162790696" y1="75.4" x2="253.95851162790697" y2="75.4" stroke="#111" stroke-width="0.8" />
<line x1="244.0501395348837" y1="96.4" x2="248.8501395348837" y2="96.4" stroke="#111" stroke-width="0.8" />
<line x1="238.96609302325578" y1="117.3" x2="243.7660930232558" y2="117.3" stroke="#111" stroke-width="0.8" />
<line x1="233.8820465116279" y1="138.2" x2="238.6820465116279" y2="138.2" stroke="#111" stroke-width="0.8" />
<line x1="228.74934883720928" y1="159.3" x2="233.5493488372093" y2="159.3" stroke="#111" stroke-width="0.8" />
<line x1="223.59232558139533" y1="180.5" x2="228.39232558139534" y2="180.5" stroke="#111" stroke-width="0.8" />
<line x1="218.45962790697672" y1="201.6" x2="223.25962790697673" y2="201.6" stroke="#111" stroke-width="0.8" />
<line x1="387.9" y1="0" x2="335.59999999999997" y2="215" stroke="#111" stroke-width="1" />
<line x1="382.67823255813954" y1="11.6" x2="387.4782325581395" y2="11.6" stroke="#111" stroke-width="0.8" />
<line x1="377.4239069767442" y1="33.2" x2="382.22390697674416" y2="33.2" stroke="#111" stroke-width="0.8" />
<line x1="372.26688372093025" y1="54.4" x2="377.0668837209302" y2="54.4" stroke="#111" stroke-width="0.8" />
<line x1="367.158511627907" y1="75.4" x2="371.95851162790694" y2="75.4" stroke="#111" stroke-width="0.8" />
<line x1="362.0501395348837" y1="96.4" x2="366.8501395348837" y2="96.4" stroke="#111" stroke-width="0.8" />
<line x1="356.96609302325584" y1="117.3" x2="361.7660930232558" y2="117.3" stroke="#111" stroke-width="0.8" />
<line x1="351.8820465116279" y1="138.2" x2="356.68204651162785" y2="138.2" stroke="#111" stroke-width="0.8" />
<line x1="346.7493488372093" y1="159.3" x2="351.54934883720927" y2="159.3" stroke="#111" stroke-width="0.8" />
<line x1="341.59232558139536" y1="180.5" x2="346.3923255813953" y2="180.5" stroke="#111" stroke-width="0.8" />
<line x1="336.4596279069767" y1="201.6" x2="341.2596279069767" y2="201.6" stroke="#111" stroke-width="0.8" />
<ellipse cx="131.8" cy="62.2" rx="17.4" ry="12.2" transform="rotate(-12 131.8 62.2)" fill="#f06a58" fill-opacity="0.92" stroke="#3a2a1a" stroke-width="0.7"/>
<ellipse cx="110" cy="63.6" rx="10.4" ry="11.9" transform="rotate(0 110 63.6)" fill="#fbbd67" fill-opacity="0.92" stroke="#3a2a1a" stroke-width="0.7"/>
<ellipse cx="123" cy="72.5" rx="6" ry="7.5" transform="rotate(0 123 72.5)" fill="#f7a04a" fill-opacity="0.92" stroke="#3a2a1a" stroke-width="0.7"/>
<ellipse cx="119.5" cy="91" rx="11" ry="21.7" transform="rotate(-4 119.5 91)" fill="#dbee5e" fill-opacity="0.92" stroke="#3a2a1a" stroke-width="0.7"/>
<ellipse cx="86.2" cy="110.4" rx="7" ry="9.7" transform="rotate(15 86.2 110.4)" fill="#d6ee62" fill-opacity="0.92" stroke="#3a2a1a" stroke-width="0.7"/>
<ellipse cx="108" cy="95" rx="7.2" ry="17.7" transform="rotate(12 108 95)" fill="#f5c43c" fill-opacity="0.92" stroke="#3a2a1a" stroke-width="0.7"/>
<ellipse cx="102" cy="85.3" rx="7" ry="12" transform="rotate(18 102 85.3)" fill="#f59535" fill-opacity="0.92" stroke="#3a2a1a" stroke-width="0.7"/>
<ellipse cx="99.8" cy="103" rx="6.6" ry="15.7" transform="rotate(15 99.8 103)" fill="#f4d93f" fill-opacity="0.92" stroke="#3a2a1a" stroke-width="0.7"/>
<ellipse cx="98.5" cy="112" rx="4.5" ry="9" transform="rotate(15 98.5 112)" fill="#f8ec80" fill-opacity="0.92" stroke="#3a2a1a" stroke-width="0.7"/>
<ellipse cx="110" cy="64.6" rx="5" ry="11" transform="rotate(18 110 64.6)" fill="#ec5a1e" fill-opacity="0.92" stroke="#3a2a1a" stroke-width="0.7"/>
<ellipse cx="105" cy="84" rx="4.5" ry="10" transform="rotate(18 105 84)" fill="#ec6a24" fill-opacity="0.92" stroke="#3a2a1a" stroke-width="0.7"/>
<ellipse cx="161.4" cy="115.7" rx="10" ry="9.5" transform="rotate(0 161.4 115.7)" fill="#86ec5c" fill-opacity="0.85" stroke="#1a2a1a" stroke-width="0.7"/>
<ellipse cx="164" cy="109" rx="8.5" ry="10.5" transform="rotate(10 164 109)" fill="#58e474" fill-opacity="0.85" stroke="#1a2a1a" stroke-width="0.7"/>
<ellipse cx="169.5" cy="95" rx="7.8" ry="26" transform="rotate(27 169.5 95)" fill="#4ae088" fill-opacity="0.85" stroke="#1a2a1a" stroke-width="0.7"/>
<ellipse cx="173.5" cy="87" rx="5.8" ry="19" transform="rotate(26 173.5 87)" fill="#36cfe6" fill-opacity="0.85" stroke="#1a2a1a" stroke-width="0.7"/>
<ellipse cx="168" cy="101" rx="7.5" ry="13" transform="rotate(22 168 101)" fill="#3cde78" fill-opacity="0.85" stroke="#1a2a1a" stroke-width="0.7"/>
<ellipse cx="172" cy="97" rx="6" ry="11" transform="rotate(20 172 97)" fill="#30d080" fill-opacity="0.85" stroke="#1a2a1a" stroke-width="0.7"/>
<ellipse cx="170" cy="103" rx="5" ry="8" transform="rotate(15 170 103)" fill="#2ccc70" fill-opacity="0.85" stroke="#1a2a1a" stroke-width="0.7"/>
<ellipse cx="174" cy="92" rx="4" ry="10" transform="rotate(22 174 92)" fill="#38d8b0" fill-opacity="0.85" stroke="#1a2a1a" stroke-width="0.7"/>
<ellipse cx="168" cy="108" rx="6" ry="6" transform="rotate(0 168 108)" fill="#34d470" fill-opacity="0.85" stroke="#1a2a1a" stroke-width="0.7"/>
<ellipse cx="173" cy="101" rx="3.5" ry="7" transform="rotate(20 173 101)" fill="#30c878" fill-opacity="0.85" stroke="#1a2a1a" stroke-width="0.7"/>
<ellipse cx="239" cy="126" rx="15" ry="17" transform="rotate(0 239 126)" fill="#0a0aff" fill-opacity="0.58" stroke="#141440" stroke-width="0.85"/>
<ellipse cx="260" cy="110" rx="8" ry="11" transform="rotate(28 260 110)" fill="#0a0aff" fill-opacity="0.58" stroke="#141440" stroke-width="0.85"/>
<ellipse cx="244" cy="113" rx="17" ry="13.5" transform="rotate(-8 244 113)" fill="#0a0aff" fill-opacity="0.58" stroke="#141440" stroke-width="0.85"/>
<ellipse cx="247" cy="124" rx="12" ry="20" transform="rotate(12 247 124)" fill="#0a0aff" fill-opacity="0.58" stroke="#141440" stroke-width="0.85"/>
<ellipse cx="243" cy="112" rx="8" ry="12" transform="rotate(10 243 112)" fill="#0a0aff" fill-opacity="0.58" stroke="#141440" stroke-width="0.85"/>
<ellipse cx="252" cy="110" rx="6" ry="12" transform="rotate(12 252 110)" fill="#0a0aff" fill-opacity="0.58" stroke="#141440" stroke-width="0.85"/>
<ellipse cx="366" cy="100" rx="68" ry="30" transform="rotate(-12 366 100)" fill="#0000ff" fill-opacity="0.55" stroke="#141430" stroke-width="0.9"/>
<ellipse cx="375" cy="100" rx="40" ry="36" transform="rotate(0 375 100)" fill="#0000ff" fill-opacity="0.55" stroke="#141430" stroke-width="0.9"/>
<ellipse cx="365" cy="132" rx="60" ry="27" transform="rotate(-10 365 132)" fill="#0000ff" fill-opacity="0.55" stroke="#141430" stroke-width="0.9"/>
<ellipse cx="338" cy="126" rx="40" ry="28" transform="rotate(-10 338 126)" fill="#0000ff" fill-opacity="0.55" stroke="#141430" stroke-width="0.9"/>
<ellipse cx="398" cy="106" rx="35" ry="30" transform="rotate(-15 398 106)" fill="#0000ff" fill-opacity="0.55" stroke="#141430" stroke-width="0.9"/>
<ellipse cx="360" cy="112" rx="50" ry="30" transform="rotate(-12 360 112)" fill="#0000ff" fill-opacity="0.55" stroke="#141430" stroke-width="0.9"/>
<ellipse cx="370" cy="115" rx="35" ry="28" transform="rotate(-5 370 115)" fill="#0000ff" fill-opacity="0.55" stroke="#141430" stroke-width="0.9"/>
<ellipse cx="355" cy="110" rx="25" ry="28" transform="rotate(0 355 110)" fill="#0000ff" fill-opacity="0.55" stroke="#141430" stroke-width="0.9"/>
<ellipse cx="380" cy="105" rx="28" ry="25" transform="rotate(0 380 105)" fill="#0000ff" fill-opacity="0.55" stroke="#141430" stroke-width="0.9"/>
<ellipse cx="362" cy="118" rx="20" ry="22" transform="rotate(0 362 118)" fill="#0000ff" fill-opacity="0.55" stroke="#141430" stroke-width="0.9"/>
<ellipse cx="372" cy="122" rx="40" ry="18" transform="rotate(-10 372 122)" fill="#0000ff" fill-opacity="0.55" stroke="#141430" stroke-width="0.9"/>
<ellipse cx="350" cy="120" rx="30" ry="20" transform="rotate(-10 350 120)" fill="#0000ff" fill-opacity="0.55" stroke="#141430" stroke-width="0.9"/>
<text x="78.6" y="182.7" font-size="8.2" text-anchor="end" font-weight="normal" fill="#111" >560</text>
<text x="179.4" y="57.6" font-size="8.2" text-anchor="end" font-weight="normal" fill="#111" >680</text>
<text x="160.2" y="141.6" font-size="8.2" text-anchor="end" font-weight="normal" fill="#111" >600</text>
<text x="151.5" y="183.4" font-size="8.2" text-anchor="end" font-weight="normal" fill="#111" >560</text>
<text x="252.4" y="57.7" font-size="8.2" text-anchor="end" font-weight="normal" fill="#111" >680</text>
<text x="273" y="16" font-size="8.2" text-anchor="start" font-weight="normal" fill="#111" >720</text>
<text x="225" y="204.6" font-size="8.2" text-anchor="start" font-weight="normal" fill="#111" >540</text>
<text x="382.6" y="12" font-size="8.2" text-anchor="end" font-weight="normal" fill="#111" >720</text>
<text x="371.3" y="54.4" font-size="8.2" text-anchor="end" font-weight="normal" fill="#111" >680</text>
<text x="340.2" y="184.8" font-size="8.2" text-anchor="end" font-weight="normal" fill="#111" >560</text>
<path d="M82,61 C84,50 92,43 104,48" fill="none" stroke="#111" stroke-width="0.8" marker-end="url(#ah)"/>
<path d="M66,131 C70,125 74,120 78,116" fill="none" stroke="#111" stroke-width="0.8" marker-end="url(#ah)"/>
<path d="M108,145 C107,137 106,130 104.5,123" fill="none" stroke="#111" stroke-width="0.8" marker-end="url(#ah)"/>
<path d="M141,151 C141,138 144,128 151,124.5" fill="none" stroke="#111" stroke-width="0.8" marker-end="url(#ah)"/>
<path d="M218,89.3 C221,96 221,104 226,110" fill="none" stroke="#111" stroke-width="0.8" marker-end="url(#ah)"/>
<path d="M194.5,124.5 C195.5,115 190,108 181,106" fill="none" stroke="#111" stroke-width="0.8" marker-end="url(#ah)"/>
<path d="M268,157 C273,150 271,142 263,136" fill="none" stroke="#111" stroke-width="0.8" marker-end="url(#ah)"/>
<path d="M273,75.5 C281,85 277,95 269,99.7" fill="none" stroke="#111" stroke-width="0.8" marker-end="url(#ah)"/>
<path d="M318,67.5 C316,75 315,80 315,87.5" fill="none" stroke="#111" stroke-width="0.8" marker-end="url(#ah)"/>
<path d="M410,52 C402,55 401,60 401,66" fill="none" stroke="#111" stroke-width="0.8" marker-end="url(#ah)"/>
<path d="M411,164.5 C416,158 414,152 408,146" fill="none" stroke="#111" stroke-width="0.8" marker-end="url(#ah)"/>
<rect x="38.5" y="0.5" width="12.6" height="14" fill="#fff" stroke="#222" stroke-width="0.9"/>
<text x="45.1" y="11.3" font-size="11.2" text-anchor="middle" font-weight="bold" fill="#111" >A</text>
<rect x="292.5" y="0.5" width="13.5" height="14" fill="#fff" stroke="#222" stroke-width="0.9"/>
<text x="299.3" y="11.2" font-size="11" text-anchor="middle" font-weight="bold" fill="#111" >B</text>
<rect x="443.5" y="0.5" width="13" height="13.8" fill="#fff" stroke="#222" stroke-width="0.9"/>
<text x="449.8" y="12.3" font-size="12.5" text-anchor="middle" font-weight="bold" fill="#111" >C</text>
<text x="78" y="9.3" font-size="10.3" text-anchor="middle" font-weight="normal" fill="#111" >N=3</text>
<text x="77.5" y="17.2" font-size="9.8" text-anchor="middle" font-weight="normal" fill="#111" >high-Yb</text>
<text x="79.3" y="27.1" font-size="9.1" text-anchor="middle" font-weight="bold" fill="#111" >671.6±8.4 Ma</text>
<text x="77.3" y="35" font-size="6.6" text-anchor="middle" font-weight="normal" fill="#111" >MSWD=0.10</text>
<text x="77.2" y="40.6" font-size="6.5" text-anchor="middle" font-weight="normal" fill="#111" >(95% conf.)</text>
<text x="156.8" y="9.3" font-size="10.3" text-anchor="middle" font-weight="normal" fill="#111" >N=8</text>
<text x="156.3" y="17.2" font-size="9.8" text-anchor="middle" font-weight="normal" fill="#111" >mid-Yb</text>
<text x="155.6" y="27.1" font-size="9.1" text-anchor="middle" font-weight="bold" fill="#111" >634.5±7.9 Ma</text>
<text x="155.5" y="35" font-size="6.6" text-anchor="middle" font-weight="normal" fill="#111" >MSWD=1.50</text>
<text x="154.3" y="40.6" font-size="6.5" text-anchor="middle" font-weight="normal" fill="#111" >(95% conf.)</text>
<text x="225.6" y="9.3" font-size="10.3" text-anchor="middle" font-weight="normal" fill="#111" >N=6</text>
<text x="225.6" y="17.2" font-size="9.8" text-anchor="middle" font-weight="normal" fill="#111" >low-Yb</text>
<text x="227.1" y="27.1" font-size="9.1" text-anchor="middle" font-weight="bold" fill="#111" >622.3±6.8 Ma</text>
<text x="228.1" y="35" font-size="6.6" text-anchor="middle" font-weight="normal" fill="#111" >MSWD=0.39</text>
<text x="227.4" y="40.6" font-size="6.5" text-anchor="middle" font-weight="normal" fill="#111" >(95% conf.)</text>
<text x="343" y="9.3" font-size="10.3" text-anchor="middle" font-weight="normal" fill="#111" >N=11</text>
<text x="342" y="17.2" font-size="9.8" text-anchor="middle" font-weight="normal" fill="#111" >leucosome</text>
<text x="341.4" y="27.1" font-size="9.1" text-anchor="middle" font-weight="bold" fill="#111" >619.6±9.8 Ma</text>
<text x="342.3" y="34" font-size="6.5" text-anchor="middle" font-weight="normal" fill="#111" >MSWD of conc.=0.15</text>
<text x="338.4" y="39.6" font-size="6.5" text-anchor="middle" font-weight="normal" fill="#111" >(2-sigma)</text>
<text x="61.3" y="104.8" font-size="10.3" text-anchor="middle" font-weight="bold" fill="#111" >cores</text>
<text x="203.3" y="110.6" font-size="10.3" text-anchor="middle" font-weight="bold" fill="#111" >rims</text>
<text x="41" y="203" font-size="9.2" text-anchor="start" font-weight="normal" fill="#111" >sample</text>
<text x="40" y="211.3" font-size="7.9" text-anchor="start" font-weight="bold" fill="#111" >DKE-374</text>
<text x="297.4" y="203" font-size="9.2" text-anchor="start" font-weight="normal" fill="#111" >sample</text>
<text x="296.6" y="211.3" font-size="7.9" text-anchor="start" font-weight="bold" fill="#111" >DKE-371</text>
<text x="110.3" y="190" font-size="7.7" text-anchor="middle" font-weight="normal" fill="#111" >75 mm</text>
<line x1="97" y1="192.2" x2="123" y2="192.2" stroke="#111" stroke-width="1.6" />
<text x="373" y="205.4" font-size="7.7" text-anchor="middle" font-weight="normal" fill="#111" >75 mm</text>
<line x1="359.2" y1="208.3" x2="385.8" y2="208.3" stroke="#111" stroke-width="1.6" />
<rect x="157.1" y="195.7" width="55.4" height="13.9" fill="url(#jet)" stroke="#222" stroke-width="0.7"/>
<text x="158.5" y="193.4" font-size="7" text-anchor="middle" font-weight="normal" fill="#111" >0</text>
<text x="184.2" y="193.6" font-size="8.3" text-anchor="middle" font-weight="normal" fill="#111" >Yb (ppm)</text>
<text x="209.5" y="193.4" font-size="7" text-anchor="middle" font-weight="normal" fill="#111" >500</text>
<line x1="38" y1="0" x2="38" y2="215" stroke="#444" stroke-width="1" />
<line x1="292.5" y1="0" x2="292.5" y2="215" stroke="#4a4a4a" stroke-width="1.3" />
<line x1="443.5" y1="0" x2="443.5" y2="215" stroke="#4a4a4a" stroke-width="1" />
<line x1="656.5" y1="0" x2="656.5" y2="215" stroke="#555" stroke-width="1" />
<line x1="38" y1="0.5" x2="656.5" y2="0.5" stroke="#333" stroke-width="1" />
<line x1="38" y1="215.5" x2="123.9" y2="215.5" stroke="#333" stroke-width="1" />
<line x1="128.7" y1="215.5" x2="187.5" y2="215.5" stroke="#333" stroke-width="1" />
<line x1="192.5" y1="215.5" x2="291.5" y2="215.5" stroke="#333" stroke-width="1" />
<line x1="121.10000000000001" y1="219" x2="123.7" y2="212.8" stroke="#222" stroke-width="0.9" />
<line x1="128.39999999999998" y1="219" x2="131.0" y2="212.8" stroke="#222" stroke-width="0.9" />
<line x1="184.89999999999998" y1="219" x2="187.5" y2="212.8" stroke="#222" stroke-width="0.9" />
<line x1="192.2" y1="219" x2="194.8" y2="212.8" stroke="#222" stroke-width="0.9" />
<line x1="291.5" y1="215.5" x2="656.5" y2="215.5" stroke="#333" stroke-width="1" />
<line x1="63" y1="215" x2="63" y2="213" stroke="#333" stroke-width="0.8" />
<text x="63" y="226.3" font-size="9.3" text-anchor="middle" font-weight="normal" fill="#111" >0.6</text>
<line x1="91.7" y1="215" x2="91.7" y2="213" stroke="#333" stroke-width="0.8" />
<text x="91.7" y="226.3" font-size="9.3" text-anchor="middle" font-weight="normal" fill="#111" >0.8</text>
<line x1="162.4" y1="215" x2="162.4" y2="213" stroke="#333" stroke-width="0.8" />
<text x="162.4" y="226.3" font-size="9.3" text-anchor="middle" font-weight="normal" fill="#111" >0.8</text>
<line x1="236" y1="215" x2="236" y2="213" stroke="#333" stroke-width="0.8" />
<text x="236" y="226.3" font-size="9.3" text-anchor="middle" font-weight="normal" fill="#111" >0.8</text>
<line x1="263" y1="215" x2="263" y2="213" stroke="#333" stroke-width="0.8" />
<text x="263" y="226.3" font-size="9.3" text-anchor="middle" font-weight="normal" fill="#111" >1.0</text>
<line x1="77.5" y1="215" x2="77.5" y2="213.5" stroke="#333" stroke-width="0.7" />
<line x1="120" y1="215" x2="120" y2="213.5" stroke="#333" stroke-width="0.7" />
<line x1="133.4" y1="215" x2="133.4" y2="213.5" stroke="#333" stroke-width="0.7" />
<line x1="148" y1="215" x2="148" y2="213.5" stroke="#333" stroke-width="0.7" />
<line x1="177" y1="215" x2="177" y2="213.5" stroke="#333" stroke-width="0.7" />
<line x1="249.5" y1="215" x2="249.5" y2="213.5" stroke="#333" stroke-width="0.7" />
<line x1="277" y1="215" x2="277" y2="213.5" stroke="#333" stroke-width="0.7" />
<line x1="324.8" y1="215" x2="324.8" y2="213" stroke="#333" stroke-width="0.8" />
<text x="324.8" y="226.3" font-size="9.3" text-anchor="middle" font-weight="normal" fill="#111" >0.6</text>
<line x1="352.5" y1="215" x2="352.5" y2="213" stroke="#333" stroke-width="0.8" />
<text x="352.5" y="226.3" font-size="9.3" text-anchor="middle" font-weight="normal" fill="#111" >0.8</text>
<line x1="380.7" y1="215" x2="380.7" y2="213" stroke="#333" stroke-width="0.8" />
<text x="380.7" y="226.3" font-size="9.3" text-anchor="middle" font-weight="normal" fill="#111" >1.0</text>
<line x1="408.4" y1="215" x2="408.4" y2="213" stroke="#333" stroke-width="0.8" />
<text x="408.4" y="226.3" font-size="9.3" text-anchor="middle" font-weight="normal" fill="#111" >1.2</text>
<line x1="310.9" y1="215" x2="310.9" y2="213.5" stroke="#333" stroke-width="0.7" />
<line x1="338.6" y1="215" x2="338.6" y2="213.5" stroke="#333" stroke-width="0.7" />
<line x1="366.6" y1="215" x2="366.6" y2="213.5" stroke="#333" stroke-width="0.7" />
<line x1="394.5" y1="215" x2="394.5" y2="213.5" stroke="#333" stroke-width="0.7" />
<line x1="422.3" y1="215" x2="422.3" y2="213.5" stroke="#333" stroke-width="0.7" />
<line x1="436" y1="215" x2="436" y2="213.5" stroke="#333" stroke-width="0.7" />
<text x="169" y="240.2" font-size="10.4" font-weight="bold" fill="#111" text-anchor="middle"><tspan font-size="6" dy="-4">207</tspan><tspan dy="4">Pb/</tspan><tspan font-size="6" dy="-4">235</tspan><tspan dy="4">U</tspan></text>
<text x="365" y="240.2" font-size="10.4" font-weight="bold" fill="#111" text-anchor="middle"><tspan font-size="6" dy="-4">207</tspan><tspan dy="4">Pb/</tspan><tspan font-size="6" dy="-4">235</tspan><tspan dy="4">U</tspan></text>
<line x1="451.8" y1="215" x2="451.8" y2="213" stroke="#333" stroke-width="0.8" />
<text x="451.8" y="226" font-size="8" text-anchor="middle" font-weight="normal" fill="#111" >La</text>
<line x1="465.85" y1="215" x2="465.85" y2="213" stroke="#333" stroke-width="0.8" />
<text x="465.85" y="226" font-size="8" text-anchor="middle" font-weight="normal" fill="#111" >Ce</text>
<line x1="479.90000000000003" y1="215" x2="479.90000000000003" y2="213" stroke="#333" stroke-width="0.8" />
<text x="479.90000000000003" y="226" font-size="8" text-anchor="middle" font-weight="normal" fill="#111" >Pr</text>
<line x1="493.95000000000005" y1="215" x2="493.95000000000005" y2="213" stroke="#333" stroke-width="0.8" />
<text x="493.95000000000005" y="226" font-size="8" text-anchor="middle" font-weight="normal" fill="#111" >Nd</text>
<line x1="508.0" y1="215" x2="508.0" y2="213" stroke="#333" stroke-width="0.8" />
<text x="508.0" y="226" font-size="8" text-anchor="middle" font-weight="normal" fill="#111" >Pm</text>
<line x1="522.05" y1="215" x2="522.05" y2="213" stroke="#333" stroke-width="0.8" />
<text x="522.05" y="226" font-size="8" text-anchor="middle" font-weight="normal" fill="#111" >Sm</text>
<line x1="536.1" y1="215" x2="536.1" y2="213" stroke="#333" stroke-width="0.8" />
<text x="536.1" y="226" font-size="8" text-anchor="middle" font-weight="normal" fill="#111" >Eu</text>
<line x1="550.15" y1="215" x2="550.15" y2="213" stroke="#333" stroke-width="0.8" />
<text x="550.15" y="226" font-size="8" text-anchor="middle" font-weight="normal" fill="#111" >Gd</text>
<line x1="564.2" y1="215" x2="564.2" y2="213" stroke="#333" stroke-width="0.8" />
<text x="564.2" y="226" font-size="8" text-anchor="middle" font-weight="normal" fill="#111" >Tb</text>
<line x1="578.25" y1="215" x2="578.25" y2="213" stroke="#333" stroke-width="0.8" />
<text x="578.25" y="226" font-size="8" text-anchor="middle" font-weight="normal" fill="#111" >Dy</text>
<line x1="592.3" y1="215" x2="592.3" y2="213" stroke="#333" stroke-width="0.8" />
<text x="592.3" y="226" font-size="8" text-anchor="middle" font-weight="normal" fill="#111" >Ho</text>
<line x1="606.35" y1="215" x2="606.35" y2="213" stroke="#333" stroke-width="0.8" />
<text x="606.35" y="226" font-size="8" text-anchor="middle" font-weight="normal" fill="#111" >Er</text>
<line x1="620.4000000000001" y1="215" x2="620.4000000000001" y2="213" stroke="#333" stroke-width="0.8" />
<text x="620.4000000000001" y="226" font-size="8" text-anchor="middle" font-weight="normal" fill="#111" >Tm</text>
<line x1="634.45" y1="215" x2="634.45" y2="213" stroke="#333" stroke-width="0.8" />
<text x="634.45" y="226" font-size="8" text-anchor="middle" font-weight="normal" fill="#111" >Yb</text>
<line x1="648.5" y1="215" x2="648.5" y2="213" stroke="#333" stroke-width="0.8" />
<text x="648.5" y="226" font-size="8" text-anchor="middle" font-weight="normal" fill="#111" >Lu</text>
<line x1="653.8" y1="36.5" x2="656.5" y2="36.5" stroke="#333" stroke-width="0.8" />
<text x="661" y="40.1" font-size="8.6" fill="#111">10<tspan font-size="5.2" dy="-4">3</tspan></text>
<line x1="653.8" y1="72" x2="656.5" y2="72" stroke="#333" stroke-width="0.8" />
<text x="661" y="75.6" font-size="8.6" fill="#111">10<tspan font-size="5.2" dy="-4">2</tspan></text>
<line x1="653.8" y1="107.3" x2="656.5" y2="107.3" stroke="#333" stroke-width="0.8" />
<text x="661" y="110.89999999999999" font-size="8.6" fill="#111">10<tspan font-size="5.2" dy="-4">1</tspan></text>
<line x1="653.8" y1="142.4" x2="656.5" y2="142.4" stroke="#333" stroke-width="0.8" />
<text x="661" y="146.0" font-size="8.6" fill="#111">10<tspan font-size="5.2" dy="-4">0</tspan></text>
<line x1="653.8" y1="178.5" x2="656.5" y2="178.5" stroke="#333" stroke-width="0.8" />
<text x="661" y="182.1" font-size="8.6" fill="#111">10<tspan font-size="5.2" dy="-4">-1</tspan></text>
<text transform="translate(677.3,67) rotate(90)" font-size="9.3" font-weight="bold" fill="#111">zircon/chondrite</text>
<clipPath id="cc"><rect x="443.5" y="0" width="213" height="215"/></clipPath>
<g clip-path="url(#cc)" fill="none" stroke-linejoin="round">
<polygon points="478,152 487,145 505,130 520,118 540,102 560,89 580,85 600,80.5 625,77.5 649,79 649,97 625,95 600,99 580,104 566,117 553,126 537,131 520,142 505,152 490,162 478,168" fill="#86c9f3" stroke="none"/>
<polyline points="451.8,128.0 465.9,114.0 479.9,132.0 494.0,139.5 522.0,132.0 536.1,128.0 550.1,120.0 564.2,114.0 578.2,112.0 592.3,112.0 606.4,112.5 620.4,112.0 634.5,111.0 648.5,110.0" stroke="#2a3ad8" stroke-width="0.9" stroke-opacity="1"/>
<polyline points="451.8,205.0 465.9,140.0 479.9,197.0 494.0,167.0 522.0,140.0 536.1,135.0 550.1,122.0 564.2,114.0 578.2,106.0 592.3,103.0 606.4,102.0 620.4,104.0 634.5,106.0 648.5,107.5" stroke="#30a8f0" stroke-width="0.9" stroke-opacity="1"/>
<polyline points="451.8,400.0 465.9,128.0 479.9,317.0 494.0,162.0 522.0,136.0 536.1,128.0 550.1,116.0 564.2,108.0 578.2,100.0 592.3,95.0 606.4,92.0 620.4,91.0 634.5,90.5 648.5,90.0" stroke="#1a3ad0" stroke-width="0.9" stroke-opacity="1"/>
<polyline points="451.8,190.0 465.9,130.0 479.9,180.0 494.0,158.0 522.0,135.0 536.1,130.0 550.1,108.0 564.2,99.0 578.2,93.0 592.3,89.0 606.4,87.0 620.4,86.0 634.5,85.0 648.5,84.0" stroke="#3a80e8" stroke-width="0.9" stroke-opacity="1"/>
<polyline points="451.8,208.0 465.9,138.0 479.9,185.0 494.0,168.0 522.0,138.0 536.1,132.0 550.1,110.0 564.2,101.0 578.2,96.0 592.3,92.0 606.4,90.0 620.4,88.5 634.5,88.0 648.5,87.5" stroke="#2a5ae0" stroke-width="0.9" stroke-opacity="1"/>
<polyline points="451.8,180.0 465.9,103.0 479.9,165.0 494.0,148.0 522.0,115.0 536.1,120.0 550.1,100.0 564.2,86.2 578.2,75.1 592.3,66.6 606.4,58.7 620.4,51.8 634.5,48.3 648.5,47.0" stroke="#30d858" stroke-width="0.9" stroke-opacity="1"/>
<polyline points="451.8,207.0 465.9,105.0 479.9,172.0 494.0,162.0 522.0,125.0 536.1,130.0 550.1,102.0 564.2,88.2 578.2,77.1 592.3,68.6 606.4,60.7 620.4,53.8 634.5,50.3 648.5,49.0" stroke="#18d0b0" stroke-width="0.9" stroke-opacity="1"/>
<polyline points="451.8,135.0 465.9,97.0 479.9,140.0 494.0,125.0 522.0,108.0 536.1,113.0 550.1,96.0 564.2,85.2 578.2,76.5 592.3,69.9 606.4,63.6 620.4,58.2 634.5,55.5 648.5,54.5" stroke="#88e840" stroke-width="0.9" stroke-opacity="1"/>
<polyline points="451.8,215.0 465.9,106.0 479.9,175.0 494.0,160.0 522.0,121.0 536.1,126.0 550.1,99.0 564.2,85.0 578.2,73.6 592.3,65.0 606.4,56.9 620.4,49.9 634.5,46.4 648.5,45.0" stroke="#20c8d0" stroke-width="0.9" stroke-opacity="1"/>
<polyline points="451.8,197.0 465.9,105.0 479.9,165.0 494.0,155.0 522.0,117.0 536.1,122.0 550.1,97.0 564.2,83.0 578.2,71.6 592.3,63.0 606.4,54.9 620.4,47.9 634.5,44.4 648.5,43.0" stroke="#20d090" stroke-width="0.9" stroke-opacity="1"/>
<polyline points="451.8,190.0 465.9,104.0 479.9,170.0 494.0,150.0 522.0,113.0 536.1,118.0 550.1,95.0 564.2,81.0 578.2,69.6 592.3,61.0 606.4,52.9 620.4,45.9 634.5,42.4 648.5,41.0" stroke="#28d868" stroke-width="0.9" stroke-opacity="1"/>
<polyline points="451.8,120.0 465.9,94.5 479.9,129.0 494.0,122.0 522.0,107.0 536.1,111.0 550.1,93.0 564.2,78.8 578.2,67.3 592.3,58.5 606.4,50.3 620.4,43.2 634.5,39.7 648.5,38.3" stroke="#40dc50" stroke-width="0.9" stroke-opacity="1"/>
<polyline points="451.8,117.5 465.9,93.0 479.9,126.7 494.0,116.0 522.0,104.0 536.1,108.0 550.1,91.0 564.2,76.7 578.2,65.2 592.3,56.4 606.4,48.1 620.4,40.9 634.5,37.4 648.5,36.0" stroke="#60e030" stroke-width="0.9" stroke-opacity="1"/>
<polyline points="451.8,158.0 465.9,98.0 479.9,135.0 494.0,128.0 522.0,105.0 536.1,109.0 550.1,88.0 564.2,73.6 578.2,62.0 592.3,53.2 606.4,44.9 620.4,37.7 634.5,34.1 648.5,32.7" stroke="#70e030" stroke-width="0.9" stroke-opacity="1"/>
<polyline points="451.8,170.0 465.9,100.0 479.9,150.0 494.0,135.0 522.0,103.0 536.1,107.0 550.1,86.0 564.2,71.6 578.2,60.0 592.3,51.1 606.4,42.8 620.4,35.6 634.5,32.0 648.5,30.6" stroke="#a8e030" stroke-width="0.9" stroke-opacity="1"/>
<polyline points="451.8,200.0 465.9,102.0 479.9,155.0 494.0,140.0 522.0,101.0 536.1,105.0 550.1,82.0 564.2,69.7 578.2,59.8 592.3,52.2 606.4,45.1 620.4,39.0 634.5,35.9 648.5,34.7" stroke="#f89a28" stroke-width="0.9" stroke-opacity="1"/>
<polyline points="451.8,145.0 465.9,101.0 479.9,145.0 494.0,133.0 522.0,98.3 536.1,102.8 550.1,77.8 564.2,65.1 578.2,54.9 592.3,47.1 606.4,39.7 620.4,33.4 634.5,30.2 648.5,29.0" stroke="#f58020" stroke-width="0.9" stroke-opacity="1"/>
<polyline points="451.8,165.0 465.9,100.0 479.9,142.0 494.0,130.0 522.0,96.4 536.1,100.5 550.1,74.0 564.2,61.5 578.2,51.3 592.3,43.6 606.4,36.4 620.4,30.1 634.5,27.0 648.5,25.8" stroke="#f05a18" stroke-width="0.9" stroke-opacity="1"/>
<polyline points="451.8,185.0 465.9,99.0 479.9,150.0 494.0,124.0 522.0,92.6 536.1,97.0 550.1,67.6 564.2,56.1 578.2,46.8 592.3,39.8 606.4,33.1 620.4,27.4 634.5,24.5 648.5,23.4" stroke="#e8400c" stroke-width="0.9" stroke-opacity="1"/>
</g>
<rect x="443.5" y="0.5" width="88.7" height="87.5" fill="#fff" stroke="#333" stroke-width="0.9"/>
<rect x="443.5" y="0.5" width="13" height="13.8" fill="#fff" stroke="#222" stroke-width="0.9"/>
<text x="449.8" y="12.3" font-size="12.5" text-anchor="middle" font-weight="bold" fill="#111" >C</text>
<line x1="532.2" y1="4.5" x2="534.5" y2="4.5" stroke="#333" stroke-width="0.8" />
<text x="536" y="7.4" font-size="7.8" text-anchor="start" font-weight="normal" fill="#111" >500</text>
<line x1="532.2" y1="46" x2="534.5" y2="46" stroke="#333" stroke-width="0.8" />
<text x="536" y="48.9" font-size="7.8" text-anchor="start" font-weight="normal" fill="#111" >250</text>
<line x1="532.2" y1="84.5" x2="534.5" y2="84.5" stroke="#333" stroke-width="0.8" />
<text x="536" y="87.4" font-size="7.8" text-anchor="start" font-weight="normal" fill="#111" >0</text>
<text transform="translate(542.3,40) rotate(-90)" font-size="7" fill="#111">Yb (ppm)</text>
<line x1="458.7" y1="88" x2="458.7" y2="90" stroke="#333" stroke-width="0.8" />
<text x="458.7" y="96.3" font-size="7.6" text-anchor="middle" font-weight="normal" fill="#111" >0.3</text>
<line x1="477" y1="88" x2="477" y2="90" stroke="#333" stroke-width="0.8" />
<text x="477" y="96.3" font-size="7.6" text-anchor="middle" font-weight="normal" fill="#111" >0.6</text>
<line x1="495.3" y1="88" x2="495.3" y2="90" stroke="#333" stroke-width="0.8" />
<text x="495.3" y="96.3" font-size="7.6" text-anchor="middle" font-weight="normal" fill="#111" >0.9</text>
<line x1="513.6" y1="88" x2="513.6" y2="90" stroke="#333" stroke-width="0.8" />
<text x="513.6" y="96.3" font-size="7.6" text-anchor="middle" font-weight="normal" fill="#111" >1.2</text>
<text x="491.5" y="103.3" font-size="7.6" text-anchor="middle" font-weight="normal" fill="#111" >Eu/Eu*</text>
<line x1="473.5" y1="26" x2="490.8" y2="66" stroke="#999" stroke-width="0.7" />
<path d="M488.6,63 L491.2,68 L492,62.6" fill="none" stroke="#999" stroke-width="0.7"/>
<line x1="487" y1="82.5" x2="447" y2="82.5" stroke="#aaa" stroke-width="0.8" />
<path d="M450,80.7 L446.3,82.5 L450,84.3" fill="none" stroke="#aaa" stroke-width="0.7"/>
<rect x="458.5" y="10.0" width="3.6" height="3.6" fill="#2894d4"/>
<rect x="454.09999999999997" y="15.2" width="3.6" height="3.6" fill="#2894d4"/>
<rect x="456.8" y="28.9" width="3.6" height="3.6" fill="#2894d4"/>
<rect x="464.09999999999997" y="38.7" width="3.6" height="3.6" fill="#2894d4"/>
<rect x="463.0" y="42.2" width="3.6" height="3.6" fill="#2894d4"/>
<rect x="467.2" y="47.0" width="3.6" height="3.6" fill="#2894d4"/>
<rect x="468.7" y="53.2" width="3.6" height="3.6" fill="#2894d4"/>
<rect x="471.9" y="54.400000000000006" width="3.6" height="3.6" fill="#2894d4"/>
<rect x="470.2" y="60.2" width="3.6" height="3.6" fill="#2894d4"/>
<rect x="475.59999999999997" y="65.0" width="3.6" height="3.6" fill="#2894d4"/>
<rect x="477.2" y="49.7" width="3.6" height="3.6" fill="#2894d4"/>
<rect x="473.2" y="67.5" width="3.6" height="3.6" fill="#2894d4"/>
<rect x="470.59999999999997" y="68.2" width="3.6" height="3.6" fill="#2894d4"/>
<rect x="468.59999999999997" y="52.2" width="3.6" height="3.6" fill="#2894d4"/>
<rect x="466.2" y="67.2" width="3.6" height="3.6" fill="#2894d4"/>
<rect x="468.2" y="69.7" width="3.6" height="3.6" fill="#2894d4"/>
<rect x="471.2" y="71.2" width="3.6" height="3.6" fill="#2894d4"/>
<rect x="474.2" y="70.2" width="3.6" height="3.6" fill="#2894d4"/>
<rect x="476.7" y="72.2" width="3.6" height="3.6" fill="#2894d4"/>
<rect x="479.2" y="68.2" width="3.6" height="3.6" fill="#2894d4"/>
<rect x="469.2" y="74.2" width="3.6" height="3.6" fill="#2894d4"/>
<rect x="473.2" y="74.7" width="3.6" height="3.6" fill="#2894d4"/>
<rect x="477.2" y="75.2" width="3.6" height="3.6" fill="#2894d4"/>
<rect x="481.2" y="73.2" width="3.6" height="3.6" fill="#2894d4"/>
<rect x="484.2" y="81.2" width="3.6" height="3.6" fill="#2894d4"/>
<rect x="487.2" y="82.2" width="3.6" height="3.6" fill="#2894d4"/>
<rect x="490.2" y="81.0" width="3.6" height="3.6" fill="#2894d4"/>
<rect x="493.2" y="82.7" width="3.6" height="3.6" fill="#2894d4"/>
<rect x="486.2" y="79.2" width="3.6" height="3.6" fill="#2894d4"/>
<rect x="482.2" y="78.2" width="3.6" height="3.6" fill="#2894d4"/>
<rect x="484.7" y="83.7" width="3.6" height="3.6" fill="#2894d4"/>
<rect x="472.2" y="69.2" width="3.6" height="3.6" fill="#90cbee" stroke="#5aa8da" stroke-width="0.3"/>
<rect x="476.2" y="69.7" width="3.6" height="3.6" fill="#90cbee" stroke="#5aa8da" stroke-width="0.3"/>
<rect x="480.2" y="71.7" width="3.6" height="3.6" fill="#90cbee" stroke="#5aa8da" stroke-width="0.3"/>
<rect x="483.2" y="70.2" width="3.6" height="3.6" fill="#90cbee" stroke="#5aa8da" stroke-width="0.3"/>
<rect x="486.2" y="73.2" width="3.6" height="3.6" fill="#90cbee" stroke="#5aa8da" stroke-width="0.3"/>
<rect x="488.2" y="74.4" width="3.6" height="3.6" fill="#90cbee" stroke="#5aa8da" stroke-width="0.3"/>
<rect x="491.9" y="74.2" width="3.6" height="3.6" fill="#90cbee" stroke="#5aa8da" stroke-width="0.3"/>
<rect x="495.59999999999997" y="73.7" width="3.6" height="3.6" fill="#90cbee" stroke="#5aa8da" stroke-width="0.3"/>
<rect x="499.2" y="74.2" width="3.6" height="3.6" fill="#90cbee" stroke="#5aa8da" stroke-width="0.3"/>
<rect x="503.7" y="73.2" width="3.6" height="3.6" fill="#90cbee" stroke="#5aa8da" stroke-width="0.3"/>
<rect x="464.2" y="71.2" width="3.6" height="3.6" fill="#90cbee" stroke="#5aa8da" stroke-width="0.3"/>
<rect x="467.2" y="72.7" width="3.6" height="3.6" fill="#90cbee" stroke="#5aa8da" stroke-width="0.3"/>
<rect x="475.2" y="72.2" width="3.6" height="3.6" fill="#90cbee" stroke="#5aa8da" stroke-width="0.3"/>
<rect x="479.2" y="74.7" width="3.6" height="3.6" fill="#90cbee" stroke="#5aa8da" stroke-width="0.3"/>
<rect x="497.2" y="76.7" width="3.6" height="3.6" fill="#90cbee" stroke="#5aa8da" stroke-width="0.3"/>
<rect x="484.2" y="75.2" width="3.6" height="3.6" fill="#90cbee" stroke="#5aa8da" stroke-width="0.3"/>
<rect x="495.5" y="8" width="3.3" height="3.3" fill="#2894d4"/>
<text x="501.8" y="12.3" font-size="6.9" text-anchor="start" font-weight="normal" fill="#111" >DKE-374</text>
<rect x="495.5" y="15.8" width="3.3" height="3.3" fill="#90cbee"/>
<text x="501.8" y="19.9" font-size="6.9" text-anchor="start" font-weight="normal" fill="#111" >DKE-371</text>
<text transform="translate(467,10.2) rotate(61)" font-size="6.8" fill="#333">cores</text>
<text transform="translate(482.6,46.5) rotate(64)" font-size="6.8" fill="#333">rims</text>
<text transform="translate(477.2,10.8) rotate(61)" font-size="6.9" font-weight="bold" fill="#111">garnet growth</text>
<text x="456.6" y="72.3" font-size="6.8" text-anchor="middle" font-weight="bold" fill="#111" >plag.</text>
<text x="456.7" y="79.8" font-size="6.8" text-anchor="middle" font-weight="bold" fill="#111" >growth</text>
<path d="M625.3,15.5 L625.3,116.4 L616.2,116.4 L634.5,146.5 L652.6,116.4 L643.4,116.4 L643.4,15.5" fill="none" stroke="#222" stroke-width="0.9"/>
<rect x="618" y="5" width="32.4" height="10.5" fill="#fff" stroke="#222" stroke-width="0.9"/>
<text x="634.2" y="13.8" font-size="10" text-anchor="middle" font-weight="bold" fill="#111" >cores</text>
<text x="634.8" y="124.6" font-size="10" text-anchor="middle" font-weight="bold" fill="#111" >rims</text>
<line x1="524.1" y1="140" x2="548" y2="151.6" stroke="#111" stroke-width="0.8" marker-end="url(#ah)"/>
<text x="589.6" y="157" font-size="8" text-anchor="middle" font-weight="normal" fill="#111" >leucosome zircons</text>
<text x="589.4" y="166" font-size="8" text-anchor="middle" font-weight="normal" fill="#111" >DKE-371</text>
<text x="562" y="181.8" font-size="8" text-anchor="middle" fill="#111"><tspan font-size="4.8" dy="-3">206</tspan><tspan dy="3">Pb/</tspan><tspan font-size="4.8" dy="-3">238</tspan><tspan dy="3">U ages (Ma)</tspan></text>
<text x="534.3" y="190.4" font-size="7" text-anchor="middle" font-weight="normal" fill="#111" >590</text>
<text x="589.1" y="190.4" font-size="7" text-anchor="middle" font-weight="normal" fill="#111" >680</text>
<rect x="535" y="192.3" width="54.8" height="14" fill="url(#jet)" stroke="#222" stroke-width="0.7"/></svg>
</body></html>
